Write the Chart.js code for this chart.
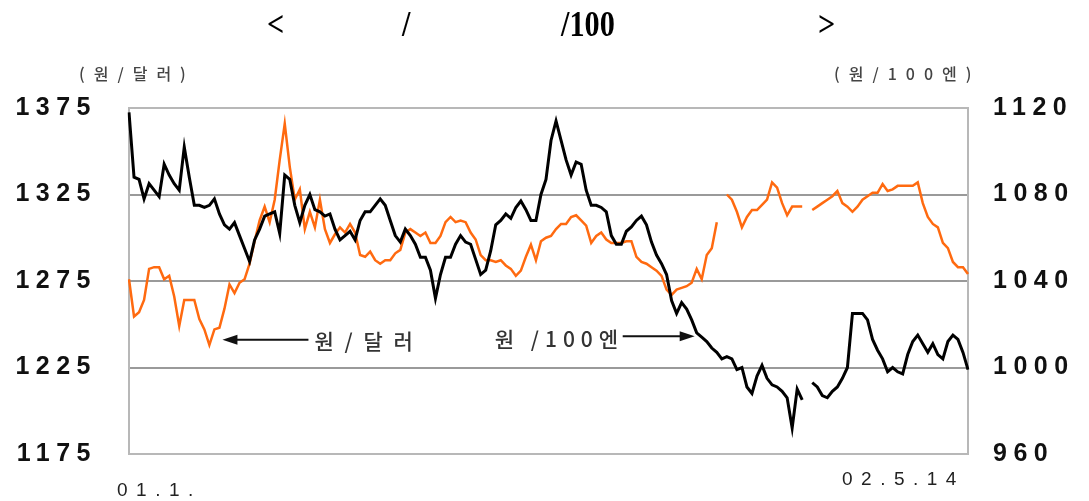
<!DOCTYPE html>
<html>
<head>
<meta charset="utf-8">
<style>
  body { margin: 0; background: #fff; }
  #wrap { position: relative; width: 1089px; height: 501px; overflow: hidden; }
  #c { position: absolute; left: 0; top: 0; }
  .ttl { position: absolute; top: 6px; font: bold 36px "Liberation Serif"; line-height: 1; color: #000;
         transform: scaleX(0.84); transform-origin: left top; white-space: pre; }
  .unit { position: absolute; top: 61px; font: 500 16px "Noto Sans CJK KR"; color: #444; letter-spacing: 9px; white-space: pre; }
  .xl { position: absolute; font: 19px "Liberation Sans"; color: #222; letter-spacing: 8.5px; white-space: pre; }
</style>
<script src="https://cdn.jsdelivr.net/npm/chart.js@4.4.0/dist/chart.umd.min.js"></script>
</head>
<body>
<div id="wrap">
  <canvas id="c" width="1089" height="501"></canvas>
  <div class="ttl" style="left:267px">&lt;</div>
  <div class="ttl" style="left:402px">/</div>
  <div class="ttl" style="left:561px">/100</div>
  <div class="ttl" style="left:818px">&gt;</div>
  <div class="unit" style="left:79px">(원/달러)</div>
  <div class="unit" style="left:834px">(원/100엔)</div>
  <div class="xl" style="left:117px;top:479px">01.1.</div>
  <div class="xl" style="left:842px;top:468px">02.5.14</div>
</div>
<script>
const usd = [
  1276, 1254.5, 1257, 1264, 1282, 1283, 1283, 1276, 1278, 1266,
  1249, 1264, 1264, 1264, 1253, 1247, 1238, 1247, 1248, 1259,
  1273, 1268, 1274, 1276, 1285, 1298, 1310, 1318, 1309, 1322,
  1345, 1366, 1341, 1322, 1328, 1305, 1315, 1306, 1322, 1305,
  1297, 1302, 1306, 1303, 1308, 1303, 1290, 1289, 1292, 1287,
  1285, 1287, 1287, 1291, 1293, 1303, 1305, 1303, 1301, 1303,
  1297, 1297, 1301, 1309, 1312, 1309, 1310, 1309, 1303, 1299,
  1290, 1287, 1287, 1286, 1287, 1284, 1282, 1278, 1281, 1289,
  1296, 1287, 1298, 1300, 1301, 1305, 1308, 1308, 1312, 1313,
  1310, 1307, 1297, 1301, 1303, 1299, 1297, 1297, 1297, 1298,
  1298, 1289, 1286, 1285, 1283, 1281, 1278, 1270, 1267, 1270,
  1271, 1272, 1274, 1282, 1276, 1290, 1294, 1309, null, 1325,
  1322, 1315, 1306, 1312, 1316, 1316, 1319, 1322, 1332, 1329,
  1320, 1313, 1318, 1318, 1318, null, 1316, 1318, 1320, 1322,
  1324, 1327, 1320, 1318, 1315, 1318, 1322, 1324, 1326, 1326,
  1331, 1327, 1328, 1330, 1330, 1330, 1330, 1332, 1320, 1312,
  1308, 1306, 1297, 1294, 1286, 1283, 1283, 1279
];

// 원/100엔 (right axis)
const jpy = [
  1118, 1088, 1087, 1078, 1085, 1082, 1079, 1094, 1089, 1085,
  1082, 1102, 1088, 1075, 1075, 1074, 1075, 1078, 1071, 1066,
  1064, 1067, 1061, 1055, 1049, 1059, 1064, 1070, 1071, 1072,
  1062, 1089, 1087, 1075, 1067, 1075, 1080, 1073, 1072, 1070,
  1071, 1064, 1059, 1061, 1063, 1059, 1068, 1072, 1072, 1075,
  1078, 1075, 1068, 1061, 1058, 1064, 1061, 1057, 1051, 1051,
  1045, 1032, 1043, 1051, 1051, 1057, 1061, 1058, 1057, 1050,
  1043, 1045, 1054, 1066, 1068, 1071, 1069, 1074, 1077, 1073,
  1068, 1068, 1080, 1087, 1105, 1114, 1105, 1096, 1089, 1095,
  1094, 1082, 1075, 1075, 1074, 1072, 1061, 1057, 1057, 1063,
  1065, 1068, 1070, 1066, 1058, 1052, 1048, 1043, 1031, 1025,
  1030, 1027, 1022, 1016, 1014, 1012, 1009, 1007, 1004, 1005,
  1004, 999, 1000, 991, 988, 996, 1001, 995, 992, 991,
  989, 986, 972, 990, 985, null, 993, 991, 987, 986,
  989, 991, 995, 1000, 1025, 1025, 1025, 1022, 1013, 1008,
  1004, 998, 1000, 998, 997, 1006, 1012, 1015, 1011, 1007,
  1011, 1006, 1004, 1012, 1015, 1013, 1007, 999
];

const firstLabel = '01.1.';
const lastLabel = '02.5.14';
const leftTicks = [1175, 1225, 1275, 1325, 1375];
const rightTicks = [960, 1000, 1040, 1080, 1120];

const categories = usd.map((v, i) => i === 0 ? firstLabel : (i === usd.length - 1 ? lastLabel : ''));

function drawArrow(ctx, x1, y1, x2, y2) {
  // line from (x1,y1) to tip (x2,y2)
  const dir = Math.sign(x2 - x1);
  ctx.beginPath();
  ctx.moveTo(x1, y1);
  ctx.lineTo(x2 - dir * 10, y2);
  ctx.stroke();
  ctx.beginPath();
  ctx.moveTo(x2, y2);
  ctx.lineTo(x2 - dir * 15, y2 - 5);
  ctx.lineTo(x2 - dir * 15, y2 + 5);
  ctx.closePath();
  ctx.fill();
}

const decor = {
  id: 'decor',
  beforeDraw(chart) {
    chart.ctx.letterSpacing = '6.5px';
  },
  beforeDatasetsDraw(chart) {
    const { ctx, chartArea: a } = chart;
    ctx.save();
    ctx.strokeStyle = '#b8b8b8';
    ctx.lineWidth = 2;
    ctx.strokeRect(a.left, a.top, a.right - a.left, a.bottom - a.top);
    ctx.restore();
  },
  afterDatasetsDraw(chart) {
    const ctx = chart.ctx;
    const xs = chart.scales.x, yl = chart.scales.y, yr = chart.scales.y1;
    ctx.save();
    ctx.letterSpacing = '3px';
    ctx.strokeStyle = '#111';
    ctx.fillStyle = '#111';
    ctx.lineWidth = 2;

    // 원/달러 arrow points at the winter low of the dollar line
    const t1x = xs.getPixelForValue(18.6), t1y = yl.getPixelForValue(1241);
    drawArrow(ctx, t1x + 86, t1y, t1x, t1y);
    // 원/100엔 arrow points at the yen line
    const t2x = xs.getPixelForValue(112.6), t2y = yr.getPixelForValue(1014.5);
    drawArrow(ctx, t2x - 72, t2y, t2x, t2y);

    ctx.font = '500 21px "Noto Sans CJK KR"';
    ctx.fillStyle = '#333';
    ctx.textBaseline = 'middle';
    ctx.textAlign = 'left';
    ctx.fillText('원 / 달 러', t1x + 92, t1y + 1);
    ctx.letterSpacing = '6px';
    ctx.fillText('원 /100엔', t2x - 200, t2y + 3);
    ctx.restore();
  }
};

new Chart(document.getElementById('c'), {
  type: 'line',
  data: {
    labels: categories,
    datasets: [
      { label: '원/100엔', data: jpy, yAxisID: 'y1', borderColor: '#000', borderWidth: 3,
        pointRadius: 0, tension: 0, spanGaps: false },
      { label: '원/달러', data: usd, yAxisID: 'y', borderColor: '#ff6a10', borderWidth: 2.5,
        pointRadius: 0, tension: 0, spanGaps: false }
    ]
  },
  options: {
    responsive: false,
    animation: false,
    devicePixelRatio: 1,
    layout: { padding: { top: 108, left: 0, right: 0, bottom: 0 } },
    plugins: { legend: { display: false }, tooltip: { enabled: false }, title: { display: false } },
    scales: {
      x: {
        offset: false,
        grid: { display: false },
        border: { display: false },
        ticks: { display: false },
        afterFit(s) { s.height = 46; }
      },
      y: {
        position: 'left',
        min: 1175, max: 1375,
        afterBuildTicks(s) { s.ticks = leftTicks.map(v => ({ value: v })); },
        grid: {
          drawTicks: false,
          lineWidth: 2,
          color: c => (c.tick && (c.tick.value === 1175 || c.tick.value === 1375)) ? 'rgba(0,0,0,0)' : '#9a9a9a'
        },
        border: { display: false },
        ticks: { padding: 32, color: '#111', callback: v => String(v),
                 font: { family: 'Liberation Sans', weight: 'bold', size: 25 } },
        afterFit(s) { s.width = 129; }
      },
      y1: {
        position: 'right',
        min: 960, max: 1120,
        afterBuildTicks(s) { s.ticks = rightTicks.map(v => ({ value: v })); },
        grid: { display: false, drawTicks: false },
        border: { display: false },
        ticks: { padding: 25, color: '#111', callback: v => String(v),
                 font: { family: 'Liberation Sans', weight: 'bold', size: 25 } },
        afterFit(s) { s.width = 121; }
      }
    }
  },
  plugins: [decor]
});
</script>
</body>
</html>
